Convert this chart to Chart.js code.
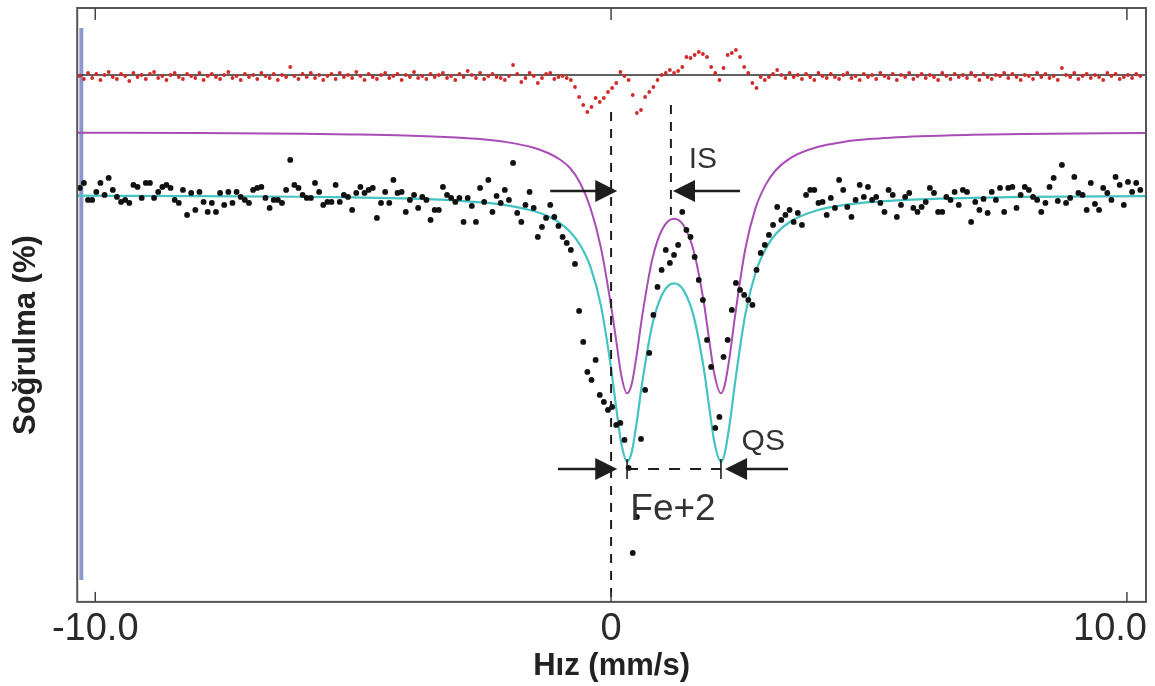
<!DOCTYPE html>
<html>
<head>
<meta charset="utf-8">
<title>Mössbauer spektrumu</title>
<script src="https://cdn.jsdelivr.net/npm/chart.js@4.4.1/dist/chart.umd.min.js"></script>
<style>
  html, body { margin: 0; padding: 0; background: #fff; }
  #wrap { width: 1155px; height: 686px; position: relative; }
</style>
</head>
<body>
<div id="wrap"><canvas id="grafik"></canvas></div>
<script>
// velocity channels (mm/s): first channel and channel width
const V_START = -10.3
const V_STEP = 0.08

const olcum = [
  41.4,
  41.9, 40.2, 40.2, 41.0, 41.9, 40.7, 42.4, 41.2, 40.5, 40.0,
  40.2, 39.9, 41.7, 41.5, 40.4, 41.9, 41.9, 40.4, 41.0, 41.5,
  41.7, 41.4, 40.2, 39.9, 41.2, 38.7, 40.9, 39.2, 41.0, 40.0,
  39.0, 39.9, 39.0, 40.9, 39.7, 41.0, 39.9, 41.0, 40.5, 40.2,
  39.9, 41.2, 41.4, 41.5, 40.4, 39.4, 40.2, 40.2, 39.9, 41.2,
  44.2, 41.7, 41.4, 40.7, 40.4, 40.4, 41.9, 41.0, 39.7, 40.0,
  40.0, 41.7, 40.0, 40.7, 40.5, 39.2, 40.9, 41.5, 40.9, 41.2,
  41.4, 38.4, 39.9, 41.0, 39.9, 42.2, 40.9, 41.0, 39.0, 40.2,
  40.7, 39.4, 40.5, 40.2, 38.2, 39.2, 39.2, 41.5, 40.7, 40.4,
  40.0, 40.4, 38.0,
  // centre (doublet)
  40.4, 39.6, 38.0, 41.4, 40.0, 42.2, 39.0, 40.6, 39.9, 41.2,
  40.2, 43.9, 38.9, 38.0, 39.7, 41.0, 39.4, 36.5, 37.5, 38.4,
  39.7, 38.5, 37.6, 36.5, 35.9, 35.2, 33.8, 29.1, 26.0, 23.0,
  22.2, 24.2, 20.7, 20.0, 19.2, 19.5, 17.7, 17.9, 16.2, 13.4,
  4.9, 8.5, 16.3, 21.2, 24.9, 28.7, 31.5, 33.2, 35.2, 33.9,
  34.7, 35.7, 39.0, 37.2, 36.5, 34.5, 32.2, 30.2, 26.2, 23.5,
  17.4, 18.5, 24.5, 26.2, 29.2, 31.9, 31.2, 30.7, 30.2, 29.7,
  33.2, 34.9, 35.7, 36.7, 37.7, 39.5, 38.2, 38.7, 39.2, 38.0,
  38.9,
  // right wing
  37.7, 40.7, 41.2, 41.2, 39.9, 40.0, 38.7, 40.4, 39.4, 42.2,
  41.2, 39.5, 38.5, 40.2, 41.7, 40.5, 41.5, 40.2, 40.5, 39.9,
  39.0, 41.2, 40.7, 38.5, 39.7, 40.5, 40.9, 39.4, 39.0, 39.5,
  40.0, 41.4, 40.9, 39.0, 39.0, 40.5, 40.2, 41.0, 39.7, 41.2,
  41.0, 38.0, 40.0, 39.2, 40.3, 38.9, 41.0, 40.2, 41.4, 39.0,
  41.4, 41.5, 39.4, 40.7, 41.5, 41.2, 40.5, 40.2, 39.0, 39.9,
  41.5, 42.4, 40.1, 43.7, 39.9, 40.4, 42.5, 40.9, 40.7, 39.2,
  41.9, 39.8, 39.2, 41.4, 40.9, 40.2, 42.5, 41.7, 39.7, 42.0,
  41.0, 41.9, 41.2
]

// fit residual (same channels), shown above the spectrum
const artik = [
  52.6, 52.3, 52.9, 52.4, 52.8, 52.2, 52.7, 53.0, 52.5, 52.3,
  52.8, 52.6, 52.1, 52.9, 52.5, 52.7, 52.3, 52.8, 53.0, 52.4,
  52.6, 52.2, 52.7, 52.9, 52.5, 52.3, 52.8, 52.6, 52.4, 52.9,
  52.2, 52.6, 52.8, 52.5, 52.3, 52.7, 53.0, 52.4, 52.6, 52.2,
  52.8, 52.5, 52.7, 52.3, 52.9, 52.6, 52.4, 52.8, 52.2, 52.7,
  52.5, 53.5, 52.6, 52.3, 52.8, 52.5, 52.9, 52.4, 52.7, 52.2,
  52.6, 52.8, 52.3, 52.9, 52.5, 52.7, 52.4, 53.0, 52.6, 52.2,
  52.8, 52.5, 52.3, 52.7, 52.9, 52.4, 52.6, 52.8, 52.2, 52.7,
  52.5, 53.0, 52.4, 52.6, 52.3, 52.8, 52.5, 52.7, 52.9, 52.4,
  52.6, 52.2, 52.8, 52.5, 53.1, 52.7, 52.4, 52.9, 52.3, 52.6,
  52.8, 52.5, 52.4,
  52.2, 52.6, 53.7, 52.8, 52.0, 52.4, 52.9, 52.6, 51.9, 52.4,
  52.8, 52.9, 52.3, 52.5, 52.6, 52.4, 52.2, 51.5, 50.5, 49.7,
  49.0, 49.5, 50.4, 50.0, 50.4, 51.0, 51.4, 51.9, 53.0, 52.6,
  52.2, 50.7, 48.9, 49.2, 50.5, 51.0, 51.5, 52.2, 52.7, 52.9,
  53.2, 52.9, 53.1, 53.5, 54.5, 54.4, 54.7, 55.0, 54.8, 54.5,
  53.5, 52.9, 52.2, 53.4, 54.7, 54.9, 55.2, 54.5, 53.5, 52.9,
  51.9, 51.4, 52.5, 52.2, 52.5, 52.8, 53.2, 52.7, 52.4, 52.9,
  52.5,
  52.7, 52.3, 52.8, 52.5, 52.2, 52.9, 52.6, 52.4, 52.8, 52.5,
  52.3, 52.7, 52.9, 52.4, 52.6, 52.2, 52.8, 52.5, 52.7, 52.3,
  52.9, 52.6, 52.4, 52.8, 52.2, 52.7, 52.5, 52.9, 52.3, 52.6,
  52.8, 52.4, 52.7, 52.5, 52.2, 52.9, 52.6, 52.3, 52.8, 52.5,
  52.7, 52.4, 52.9, 52.6, 52.2, 52.8, 52.5, 52.3, 52.7, 52.6,
  52.9, 52.4, 52.8, 52.5, 52.2, 52.7, 52.6, 52.3, 52.9, 52.5,
  52.8, 52.4, 52.6, 52.2, 53.4, 52.7, 52.5, 52.9, 52.3, 52.6,
  52.8, 52.4, 52.7, 52.5, 52.2, 52.9, 52.6, 52.8, 52.3, 52.5,
  52.7, 52.4, 52.8, 52.6
]
const ARTIK_SIFIR = 52.7

// fitted curves, sampled at these velocities
const egriHiz = [-10.35, -8, -6, -5, -4, -3, -2.5, -2, -1.5, -1.2, -1.0, -0.8, -0.6, -0.4, -0.2,
  0, 0.1, 0.2, 0.31, 0.4, 0.5, 0.6, 0.8, 1.0, 1.22, 1.4, 1.6, 1.8, 1.9, 2.0, 2.13, 2.2, 2.3,
  2.4, 2.6, 2.8, 3.0, 3.2, 3.5, 4.0, 4.5, 5, 6, 7, 8, 10.37]
const toplamFit = [40.63, 40.59, 40.52, 40.46, 40.35, 40.14, 39.95, 39.64, 39.09, 38.51, 37.91,
  37.05, 35.70, 33.51, 29.71, 23.36, 19.38, 15.81, 14.03, 14.98, 18.07, 21.81, 27.75, 30.84,
  31.85, 31.20, 28.58, 23.24, 19.55, 16.05, 14.03, 14.80, 17.83, 21.81, 28.70, 32.92, 35.35,
  36.84, 38.12, 39.17, 39.68, 39.98, 40.27, 40.41, 40.50, 40.59]
const fe2Bileseni = [46.93, 46.89, 46.82, 46.76, 46.66, 46.45, 46.27, 45.96, 45.42, 44.85, 44.27,
  43.42, 41.90, 39.40, 35.50, 29.60, 26.11, 22.61, 20.86, 21.79, 24.82, 28.49, 34.31, 37.34,
  38.33, 37.69, 35.12, 29.89, 26.27, 22.84, 20.86, 21.62, 24.59, 28.49, 35.24, 39.38, 41.76,
  43.22, 44.47, 45.50, 46.00, 46.29, 46.58, 46.72, 46.80, 46.89]

const tickDegerleri = [-10, 0, 10]
const tickEtiketleri = ['-10.0', '0', '10.0']

const FONT = '"Liberation Sans", Arial, Helvetica, sans-serif'

const kanallar = (vals) => vals.map((y, i) => ({ x: V_START + V_STEP * i, y: y }))
const egri = (vals) => vals.map((y, i) => ({ x: egriHiz[i], y: y }))

function ok(ctx, x0, x1, y) {
    // tail at x0, tip at x1
    const d = Math.sign(x1 - x0)
    ctx.beginPath()
    ctx.moveTo(x0, y)
    ctx.lineTo(x1 - d * 18, y)
    ctx.stroke()
    ctx.beginPath()
    ctx.moveTo(x1, y)
    ctx.lineTo(x1 - d * 22, y - 11)
    ctx.lineTo(x1 - d * 22, y + 11)
    ctx.closePath()
    ctx.fill()
}

function cizgi(ctx, x0, y0, x1, y1) {
    ctx.beginPath()
    ctx.moveTo(x0, y0)
    ctx.lineTo(x1, y1)
    ctx.stroke()
}

const isaretler = {
    id: 'isaretler',
    afterDatasetsDraw(chart) {
        const { ctx, scales: { x, y } } = chart
        const px = v => x.getPixelForValue(v)
        const py = v => y.getPixelForValue(v)
        ctx.save()
        ctx.strokeStyle = '#1e1e1e'
        ctx.fillStyle = '#1e1e1e'

        // dashed guides
        ctx.lineWidth = 2
        ctx.setLineDash([9, 8])
        cizgi(ctx, px(0), py(49.0), px(0), py(0))
        cizgi(ctx, px(1.16), py(49.7), px(1.16), py(38.7))
        ctx.setLineDash([11, 10])
        cizgi(ctx, px(0.31), py(13.3), px(2.13), py(13.3))
        ctx.setLineDash([])

        // QS end markers
        ctx.lineWidth = 1.6
        cizgi(ctx, px(0.31), py(14.3), px(0.31), py(12.3))
        cizgi(ctx, px(2.13), py(14.3), px(2.13), py(12.3))

        // arrows
        ctx.lineWidth = 2.5
        ok(ctx, px(-1.18), px(0.12), py(41.1))
        ok(ctx, px(2.5), px(1.2), py(41.1))
        ok(ctx, px(-1.03), px(0.12), py(13.3))
        ok(ctx, px(3.43), px(2.21), py(13.3))

        // labels
        ctx.fillStyle = '#333'
        ctx.textAlign = 'center'
        ctx.textBaseline = 'middle'
        ctx.font = '30px ' + FONT
        ctx.fillText('IS', px(1.78), py(44.2))
        ctx.fillText('QS', px(2.95), py(16.0))
        ctx.font = '37px ' + FONT
        ctx.fillText('Fe+2', px(1.2), py(9.2))
        ctx.restore()
    },
    afterDraw(chart) {
        const { ctx, chartArea: a, scales: { x } } = chart
        ctx.save()
        // frame
        ctx.strokeStyle = '#555'
        ctx.lineWidth = 2
        ctx.strokeRect(a.left, a.top, a.right - a.left, a.bottom - a.top)
        // inner tick marks + labels
        ctx.lineWidth = 1.5
        ctx.strokeStyle = '#444'
        ctx.fillStyle = '#2a2a2a'
        ctx.font = '38px ' + FONT
        ctx.textAlign = 'center'
        ctx.textBaseline = 'top'
        x.ticks.forEach((t, i) => {
            const p = x.getPixelForValue(t.value)
            cizgi(ctx, p, a.bottom, p, a.bottom - 10)
            cizgi(ctx, p, a.top, p, a.top + 12)
            const lab = tickEtiketleri[i]
            const w = ctx.measureText(lab).width
            let cx = p
            if (cx + w / 2 > a.right + 1) cx = a.right + 1 - w / 2
            ctx.fillText(lab, cx, a.bottom + 9)
        })
        ctx.restore()
    }
}

const grafik = document.querySelector('#grafik')

const config = {
    type: 'scatter',
    data: {
        datasets: [
            {
                label: 'Ölçüm',
                data: kanallar(olcum),
                pointRadius: 2.9,
                pointBackgroundColor: '#111',
                pointBorderWidth: 0
            },
            {
                label: 'Artık',
                data: kanallar(artik),
                pointRadius: 1.9,
                pointBackgroundColor: '#d12a2a',
                pointBorderWidth: 0
            },
            {
                label: 'Sıfır',
                data: [{ x: -10.35, y: ARTIK_SIFIR }, { x: 10.37, y: ARTIK_SIFIR }],
                showLine: true,
                borderColor: '#2b2b2b',
                borderWidth: 1.6,
                pointRadius: 0
            },
            {
                label: 'Fit',
                data: egri(toplamFit),
                showLine: true,
                borderColor: '#45c2c2',
                borderWidth: 2.2,
                pointRadius: 0,
                cubicInterpolationMode: 'monotone'
            },
            {
                label: 'Fe+2',
                data: egri(fe2Bileseni),
                showLine: true,
                borderColor: '#a84db5',
                borderWidth: 2,
                pointRadius: 0,
                cubicInterpolationMode: 'monotone'
            },
            {
                label: 'kenar',
                data: [{ x: -10.27, y: 57.4 }, { x: -10.27, y: 2.2 }],
                showLine: true,
                borderColor: '#8f97cf',
                borderWidth: 4,
                pointRadius: 0
            }
        ]
    },
    options: {
        responsive: true,
        maintainAspectRatio: false,
        animation: false,
        layout: { padding: { left: 0, right: 9, top: 8, bottom: 0 } },
        plugins: {
            legend: { display: false },
            tooltip: { enabled: false }
        },
        scales: {
            x: {
                type: 'linear',
                min: -10.35,
                max: 10.37,
                afterBuildTicks: s => { s.ticks = tickDegerleri.map(v => ({ value: v })) },
                grid: { display: false, drawTicks: false },
                border: { display: false },
                ticks: { display: false },
                title: {
                    display: true,
                    text: 'Hız (mm/s)',
                    color: '#222',
                    font: { family: FONT, size: 31, weight: 'bold', lineHeight: 1.1 },
                    padding: { top: 48, bottom: 2 }
                }
            },
            y: {
                min: 0,
                max: 59.4,
                grid: { display: false, drawTicks: false },
                border: { display: false },
                ticks: { display: false },
                title: {
                    display: true,
                    text: 'Soğrulma (%)\u00a0\u00a0\u00a0\u00a0\u00a0\u00a0\u00a0',
                    color: '#222',
                    font: { family: FONT, size: 31, weight: 'bold', lineHeight: 1.2 },
                    padding: { top: 8, bottom: 32 }
                }
            }
        }
    },
    plugins: [isaretler]
}

const myChart = new Chart(grafik, config)
</script>
</body>
</html>
